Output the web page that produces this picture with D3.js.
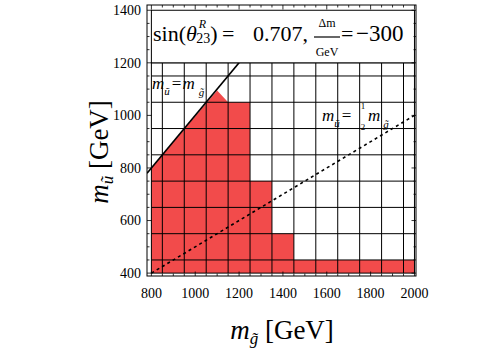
<!DOCTYPE html>
<html><head><meta charset="utf-8">
<script src="https://cdn.jsdelivr.net/npm/d3@7"></script>
<style>body{margin:0;background:#fff} svg{display:block}</style>
</head><body><svg id="c" width="500" height="350"></svg>
<script>
// ---- data ----
const xTicks = [800, 1000, 1200, 1400, 1600, 1800, 2000];
const yTicks = [400, 600, 800, 1000, 1200, 1400];
const xMinorStep = 50, yMinorStep = 50;
const xCellEdges = [850, 950, 1050, 1150, 1250, 1350, 1450, 1550, 1650, 1750, 1850, 1950];
const yCellEdges = [450, 550, 650, 750, 850, 950, 1050, 1150];
const scanX = [800, 2000];
const scanY = [400, 1200];
const boxY = [1200, 1400];
// boundary of the red (excluded) region, [m_gluino, m_squark]
const regionGluino = [800, 800, 1100, 1150, 1250, 1250, 1350, 1350, 1450, 1450, 2000, 2000];
const regionSquark = [400, 800, 1095, 1050, 1050, 750, 750, 550, 550, 450, 450, 400];
// reference lines m_u = k * m_g
const lineRatios = [1, 0.5];
const lineStartX = [780, 800];

// ---- layout ----
const svg = d3.select("#c");
const x = d3.scaleLinear([780, 2007], [147, 416]);
const y = d3.scaleLinear([389, 1420], [276, 5]);
const serif = "'Liberation Serif','DejaVu Serif',serif";
const red = "#f24b4b";

svg.append("rect").attr("width", 500).attr("height", 350).attr("fill", "#fff");

svg.append("clipPath").attr("id", "plotclip").append("rect")
  .attr("x", x(780)).attr("y", y(1420)).attr("width", x(2007) - x(780)).attr("height", y(389) - y(1420));

const g = svg.append("g").attr("clip-path", "url(#plotclip)");

// red region
const pts = regionGluino.map((v, i) => [x(v), y(regionSquark[i])]);
g.append("path").attr("d", d3.line()(pts) + "Z").attr("fill", red);

// cell grid
xCellEdges.forEach(v => g.append("line").attr("x1", x(v)).attr("x2", x(v))
  .attr("y1", y(scanY[0])).attr("y2", y(scanY[1])).attr("stroke", "#000").attr("stroke-width", 1));
yCellEdges.forEach(v => g.append("line").attr("x1", x(scanX[0])).attr("x2", x(scanX[1]))
  .attr("y1", y(v)).attr("y2", y(v)).attr("stroke", "#000").attr("stroke-width", 1));
g.append("rect").attr("x", x(scanX[0])).attr("y", y(scanY[1]))
  .attr("width", x(scanX[1]) - x(scanX[0])).attr("height", y(scanY[0]) - y(scanY[1]))
  .attr("fill", "none").attr("stroke", "#000").attr("stroke-width", 1);

// reference lines
const x1End = 1200, x2End = 2007;
g.append("line").attr("x1", x(lineStartX[0])).attr("y1", y(lineStartX[0] * lineRatios[0]))
  .attr("x2", x(x1End)).attr("y2", y(x1End * lineRatios[0]))
  .attr("stroke", "#000").attr("stroke-width", 1.7);
g.append("line").attr("x1", x(lineStartX[1])).attr("y1", y(lineStartX[1] * lineRatios[1]))
  .attr("x2", x(x2End)).attr("y2", y(x2End * lineRatios[1]))
  .attr("stroke", "#000").attr("stroke-width", 1.6).attr("stroke-dasharray", "3,3.2");

// title box
svg.append("rect").attr("x", x(scanX[0])).attr("y", y(boxY[1]))
  .attr("width", x(scanX[1]) - x(scanX[0])).attr("height", y(boxY[0]) - y(boxY[1]))
  .attr("fill", "#fff").attr("stroke", "#000").attr("stroke-width", 1);

// frame
svg.append("rect").attr("x", x(780)).attr("y", y(1420))
  .attr("width", x(2007) - x(780)).attr("height", y(389) - y(1420))
  .attr("fill", "none").attr("stroke", "#000").attr("stroke-width", 1);

const tk = svg.append("g").attr("stroke", "#000").attr("stroke-width", 0.8);
const xMinor = d3.range(800, 2001, xMinorStep).filter(v => !xTicks.includes(v));
const yMinor = d3.range(400, 1401, yMinorStep).filter(v => !yTicks.includes(v));
function xt(v, len) {
  tk.append("line").attr("x1", x(v)).attr("x2", x(v)).attr("y1", y(389)).attr("y2", y(389) - len);
  tk.append("line").attr("x1", x(v)).attr("x2", x(v)).attr("y1", y(1420)).attr("y2", y(1420) + len);
}
function yt(v, len) {
  tk.append("line").attr("y1", y(v)).attr("y2", y(v)).attr("x1", x(780)).attr("x2", x(780) + len);
  tk.append("line").attr("y1", y(v)).attr("y2", y(v)).attr("x1", x(2007)).attr("x2", x(2007) - len);
}
xTicks.forEach(v => xt(v, 4.5)); xMinor.forEach(v => xt(v, 2.5));
yTicks.forEach(v => yt(v, 4.5)); yMinor.forEach(v => yt(v, 2.5));

// tick labels
svg.append("g").selectAll("text").data(xTicks).join("text")
  .attr("x", d => x(d)).attr("y", 298).attr("text-anchor", "middle")
  .attr("font-family", serif).attr("font-size", 14).text(d => d);
svg.append("g").selectAll("text").data(yTicks).join("text")
  .attr("x", 141).attr("y", d => y(d) + 4.8).attr("text-anchor", "end")
  .attr("font-family", serif).attr("font-size", 14).text(d => d);

// axis titles
const xl = svg.append("text").attr("x", 282).attr("y", 339).attr("text-anchor", "middle")
  .attr("font-family", serif).attr("font-size", 27);
xl.append("tspan").attr("font-style", "italic").text("m");
xl.append("tspan").attr("font-style", "italic").attr("font-size", 17).attr("dy", 5).text("g\u0303");
xl.append("tspan").attr("dy", -5).text(" [GeV]");

const yl = svg.append("text").attr("transform", "translate(108,152) rotate(-90)").attr("text-anchor", "middle")
  .attr("font-family", serif).attr("font-size", 27);
yl.append("tspan").attr("font-style", "italic").text("m");
yl.append("tspan").attr("font-style", "italic").attr("font-size", 17).attr("dy", 5).text("u\u0303");
yl.append("tspan").attr("dy", -5).text(" [GeV]");

// title
const t = svg.append("text").attr("x", 153).attr("y", 41).attr("font-family", serif).attr("font-size", 22);
t.append("tspan").text("sin(");
t.append("tspan").attr("font-style", "italic").text("\u03b8");
t.append("tspan").attr("font-style", "italic").attr("font-size", 12).attr("dx", 2).attr("dy", -13).text("R");
t.append("tspan").attr("font-size", 14).attr("dx", -10).attr("dy", 15).text("23");
t.append("tspan").attr("dy", -2).text(")");
svg.append("text").attr("x", 222).attr("y", 41).attr("font-family", serif).attr("font-size", 22).text("=");
svg.append("text").attr("x", 253).attr("y", 41).attr("font-family", serif).attr("font-size", 22).text("0.707,");
svg.append("text").attr("x", 327).attr("y", 27).attr("text-anchor", "middle").attr("font-family", serif).attr("font-size", 12).text("\u0394m");
svg.append("line").attr("x1", 314).attr("x2", 340).attr("y1", 37).attr("y2", 37).attr("stroke", "#000").attr("stroke-width", 1.2);
svg.append("text").attr("x", 327).attr("y", 56).attr("text-anchor", "middle").attr("font-family", serif).attr("font-size", 12).text("GeV");
svg.append("text").attr("x", 341).attr("y", 41).attr("font-family", serif).attr("font-size", 22).text("=");
svg.append("text").attr("x", 356).attr("y", 41).attr("font-family", serif).attr("font-size", 23).text("\u2212300");

// line labels
const l1 = svg.append("text").attr("x", 152).attr("y", 89).attr("font-family", serif).attr("font-size", 17);
l1.append("tspan").attr("font-style", "italic").text("m");
l1.append("tspan").attr("font-style", "italic").attr("font-size", 11).attr("dy", 6).text("u\u0303");
l1.append("tspan").attr("dy", -6).attr("dx", 2).text("=");
l1.append("tspan").attr("font-style", "italic").attr("dx", 1).text("m");
l1.append("tspan").attr("font-style", "italic").attr("font-size", 11).attr("dy", 7).attr("dx", 4).text("g\u0303");

const l2 = svg.append("text").attr("x", 322).attr("y", 121).attr("font-family", serif).attr("font-size", 17);
l2.append("tspan").attr("font-style", "italic").text("m");
l2.append("tspan").attr("font-style", "italic").attr("font-size", 11).attr("dy", 6).text("u\u0303");
l2.append("tspan").attr("dy", -6).attr("dx", 2).text("=");
svg.append("text").attr("x", 363).attr("y", 109).attr("text-anchor", "middle").attr("font-family", serif).attr("font-size", 9).text("1");
svg.append("text").attr("x", 363).attr("y", 130).attr("text-anchor", "middle").attr("font-family", serif).attr("font-size", 9).text("2");
const l3 = svg.append("text").attr("x", 368).attr("y", 121).attr("font-family", serif).attr("font-size", 17);
l3.append("tspan").attr("font-style", "italic").text("m");
l3.append("tspan").attr("font-style", "italic").attr("font-size", 11).attr("dy", 7).attr("dx", 3).text("g\u0303");
</script></body></html>
